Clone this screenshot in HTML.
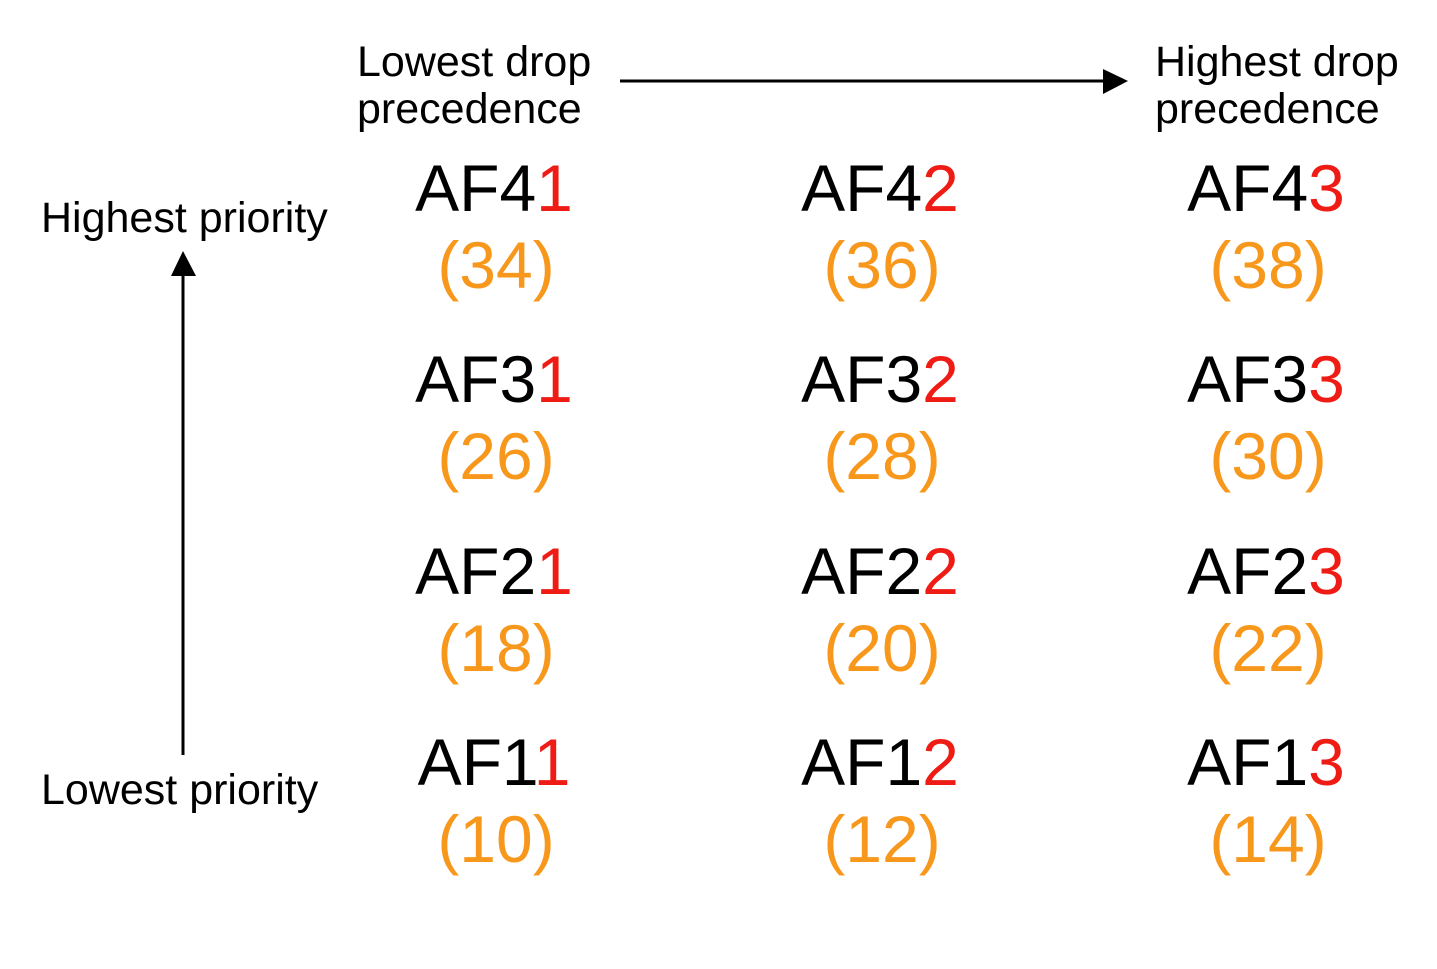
<!DOCTYPE html>
<html><head><meta charset="utf-8"><style>
html,body{margin:0;padding:0;background:#fff;}
svg{display:block;font-family:"Liberation Sans",sans-serif;}
</style></head><body>
<svg id="chart" width="1437" height="969" viewBox="0 0 1437 969">
<defs>
<marker id="ah" markerWidth="10" markerHeight="10" refX="9" refY="5" orient="auto" markerUnits="userSpaceOnUse" viewBox="0 0 10 10"><path d="M0,0 L10,5 L0,10 z" fill="#000"/></marker>
</defs>
<text x="357" y="76" font-size="43" fill="#000">Lowest drop</text>
<text x="357" y="123" font-size="43" fill="#000">precedence</text>
<text x="1155" y="76" font-size="43" fill="#000">Highest drop</text>
<text x="1155" y="123" font-size="43" fill="#000">precedence</text>
<path d="M620,81 L1104,81" stroke="#000" stroke-width="3"/>
<path d="M1103,69 L1128,81 L1103,94 z" fill="#000"/>
<text x="41" y="232" font-size="43" fill="#000">Highest priority</text>
<text x="41" y="804" font-size="43" fill="#000">Lowest priority</text>
<path d="M183,755 L183,274" stroke="#000" stroke-width="3"/>
<path d="M171,276 L183,251 L196,276 z" fill="#000"/>
<g id="grid"></g>
</svg>
<script>
const classes = [4, 3, 2, 1];
const drops = [1, 2, 3];
const dscpValues = [[34, 36, 38], [26, 28, 30], [18, 20, 22], [10, 12, 14]];
const colX = [494, 880, 1266];
const rowY = [211, 402, 594, 785];
const ns = "http://www.w3.org/2000/svg";
const g = document.getElementById("grid");
classes.forEach((c, r) => {
  drops.forEach((d, k) => {
    const t = document.createElementNS(ns, "text");
    
    
    t.setAttribute("x", colX[k]); t.setAttribute("y", rowY[r]);
    t.setAttribute("font-size", "66"); t.setAttribute("text-anchor", "middle");
    const s1 = document.createElementNS(ns, "tspan");
    
    
    s1.setAttribute("fill", "#000"); s1.textContent = "AF" + c;
    const s2 = document.createElementNS(ns, "tspan");
    
    
    s2.setAttribute("fill", "#ee1c14"); s2.textContent = String(d);
    t.appendChild(s1); t.appendChild(s2); g.appendChild(t);
    const v = document.createElementNS(ns, "text");
    
    
    v.setAttribute("x", colX[k] + 2); v.setAttribute("y", rowY[r] + 77);
    v.setAttribute("font-size", "66"); v.setAttribute("text-anchor", "middle");
    v.setAttribute("fill", "#f7981d");
    v.textContent = "(" + dscpValues[r][k] + ")";
    g.appendChild(v);
  });
});
</script>
</body></html>
